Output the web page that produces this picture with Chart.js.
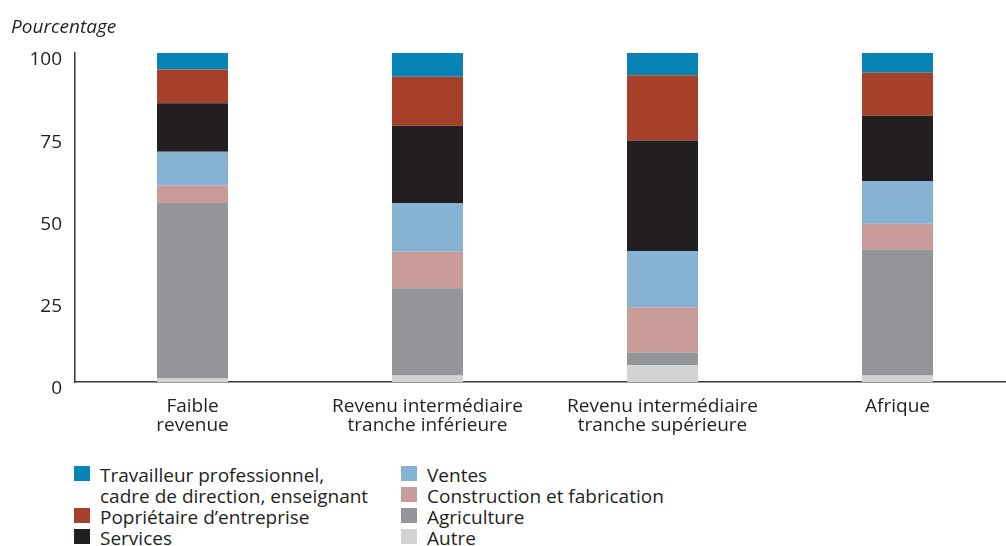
<!DOCTYPE html>
<html lang="fr">
<head>
<meta charset="utf-8">
<script src="https://cdn.jsdelivr.net/npm/chart.js@4"></script>
<style>
  html, body { margin: 0; padding: 0; background: #fff; }
  #wrap { position: relative; width: 1006px; height: 546px; overflow: hidden; }
  #chart { position: absolute; left: 0; top: 0; }
  .legend { position: absolute; font-family: "Open Sans", sans-serif; font-size: 19px; color: #231f20; line-height: 21px; }
  .legend .item { position: relative; padding-left: 26px; white-space: nowrap; }
  .legend .sw { position: absolute; left: 0; top: 1px; width: 16px; height: 15px; }
</style>
</head>
<body>
<div id="wrap">
  <canvas id="chart" width="1020" height="450"></canvas>
  <div class="legend" id="legCol1" style="left:74px; top:465px;"></div>
  <div class="legend" id="legCol2" style="left:401px; top:465px;"></div>
</div>
<script>
// Income groups on the x axis
const categories = [
  ["Faible", "revenue"],
  ["Revenu intermédiaire", "tranche inférieure"],
  ["Revenu intermédiaire", "tranche supérieure"],
  ["Afrique"]
];

// Share of employment by occupation (percent), stacked bottom to top
const autre        = [1.1, 2.0, 5.1, 2.0];
const agriculture  = [53.3, 26.5, 3.9, 38.2];
const construction = [5.3, 11.1, 13.7, 7.9];
const ventes       = [10.3, 14.8, 17.1, 13.0];
const services     = [14.7, 23.5, 33.6, 19.8];
const proprietaire = [10.3, 14.9, 19.8, 13.1];
const travailleur  = [5.0, 7.2, 6.8, 6.0];

const yTicks = [0, 25, 50, 75, 100];

const seriesNames = {
  travailleur: ["Travailleur professionnel,", "cadre de direction, enseignant"],
  proprietaire: ["Popriétaire d’entreprise"],
  services: ["Services"],
  ventes: ["Ventes"],
  construction: ["Construction et fabrication"],
  agriculture: ["Agriculture"],
  autre: ["Autre"]
};

const colors = {
  travailleur: "#0784b5",
  proprietaire: "#a5402b",
  services: "#231f20",
  ventes: "#86b2d4",
  construction: "#c99c99",
  agriculture: "#949598",
  autre: "#d1d3d4"
};

const stackOrder = [
  ["autre", autre],
  ["agriculture", agriculture],
  ["construction", construction],
  ["ventes", ventes],
  ["services", services],
  ["proprietaire", proprietaire],
  ["travailleur", travailleur]
];

const datasets = stackOrder.map(([key, values]) => ({
  label: seriesNames[key].join(" "),
  data: values,
  backgroundColor: colors[key],
  borderWidth: 0,
  categoryPercentage: 1.0,
  barPercentage: 0.302
}));

const FONT = "'Open Sans', sans-serif";
const TEXT = "#231f20";

// Italic unit label above the value axis
const unitLabel = {
  id: "unitLabel",
  afterDraw(chart) {
    const ctx = chart.ctx;
    ctx.save();
    ctx.font = "italic 19px " + FONT;
    ctx.fillStyle = TEXT;
    ctx.textBaseline = "middle";
    ctx.textAlign = "left";
    ctx.fillText("Pourcentage", 11, 28);
    ctx.restore();
  }
};

new Chart(document.getElementById("chart"), {
  type: "bar",
  data: { labels: categories, datasets },
  options: {
    responsive: false,
    animation: false,
    layout: { padding: { top: 53, right: 5, left: 0, bottom: 0 } },
    plugins: { legend: { display: false }, tooltip: { enabled: false } },
    scales: {
      x: {
        stacked: true,
        offset: true,
        grid: { display: false, drawTicks: false },
        border: { display: true, color: "#3a3a3a", width: 1.5 },
        ticks: { color: TEXT, font: { family: FONT, size: 19, lineHeight: 1.02 }, padding: 15, maxRotation: 0, autoSkip: false },
        afterFit(scale) { scale.height = 68; }
      },
      y: {
        stacked: true,
        min: 0,
        max: 100,
        afterBuildTicks(scale) { scale.ticks = yTicks.map(v => ({ value: v })); },
        grid: { display: false, drawTicks: false },
        border: { display: true, color: "#3a3a3a", width: 1.5 },
        ticks: { color: TEXT, font: { family: FONT, size: 19 }, padding: 13, labelOffset: 7 },
        afterFit(scale) { scale.width = 75; }
      }
    }
  },
  plugins: [unitLabel]
});

// Two-column legend below the plot
const legendColumns = [
  ["travailleur", "proprietaire", "services"],
  ["ventes", "construction", "agriculture", "autre"]
];
legendColumns.forEach((keys, i) => {
  const col = document.getElementById(i === 0 ? "legCol1" : "legCol2");
  keys.forEach(key => {
    const item = document.createElement("div");
    item.className = "item";
    const sw = document.createElement("span");
    sw.className = "sw";
    sw.style.background = colors[key];
    item.appendChild(sw);
    seriesNames[key].forEach((line, j) => {
      if (j > 0) item.appendChild(document.createElement("br"));
      item.appendChild(document.createTextNode(line));
    });
    col.appendChild(item);
  });
});
</script>
</body>
</html>
